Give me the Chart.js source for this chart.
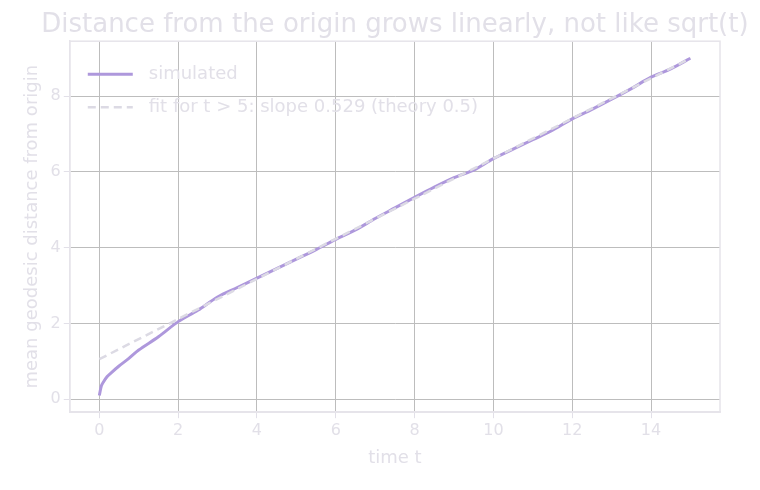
<!DOCTYPE html>
<html><head><meta charset="utf-8">
<script src="https://cdn.jsdelivr.net/npm/chart.js@4"></script>
<style>html,body{margin:0;background:#fff}#w{width:760px;height:490px}</style>
</head><body><div id="w"><canvas id="c"></canvas></div>
<script>
const times = [0,0.05,0.1,0.2,0.3,0.5,0.75,1,1.5,2,2.5,3,3.5,4,4.5,5,5.5,6,6.5,7,7.5,8,8.5,9,9.5,10,10.5,11,11.5,12,12.5,13,13.5,14,14.5,15];
const simulated = [0.1,0.35,0.45,0.6,0.7,0.88,1.08,1.3,1.65,2.05,2.35,2.7,2.95,3.2,3.45,3.7,3.95,4.22,4.47,4.77,5.05,5.33,5.6,5.85,6.05,6.35,6.6,6.85,7.1,7.4,7.65,7.92,8.2,8.5,8.72,9.0];
const fitT = [0,15];
const fitY = [1.06,9.0];
const xTicks = [0,2,4,6,8,10,12,14];
const yTicks = [0,2,4,6,8];
const titleText = 'Distance from the origin grows linearly, not like sqrt(t)';
const txt = '#e2e0e8', font = 'DejaVu Sans';
const legendPlugin = {id:'lg', afterDraw(ch){
  const c=ch.ctx, a=ch.chartArea; c.save();
  c.strokeStyle='#e6e4ea'; c.lineWidth=1.5; c.strokeRect(a.left,a.top,a.right-a.left,a.bottom-a.top);
  c.fillStyle=txt; c.font='26px "'+font+'"'; c.textAlign='center'; c.textBaseline='middle';
  c.fillText(titleText,(a.left+a.right)/2,25);
  c.textAlign='left';
  c.font='18px "'+font+'"';
  ch.data.datasets.forEach((d,i)=>{
    const y=a.top+33+i*33, x=a.left+18;
    c.strokeStyle=d.borderColor; c.lineWidth=d.borderWidth; c.setLineDash(d.borderDash||[]);
    c.beginPath(); c.moveTo(x,y); c.lineTo(x+45,y); c.stroke();
    c.fillStyle=txt; c.fillText(d.label,x+61,y);
  }); c.restore();}};
new Chart(document.getElementById('c'),{type:'line',
 data:{datasets:[
  {label:'simulated',data:times.map((t,i)=>({x:t,y:simulated[i]})),borderColor:'#ae98dc',borderWidth:3,pointRadius:0,tension:0.3,order:1},
  {label:'fit for t > 5: slope 0.529 (theory 0.5)',data:fitT.map((t,i)=>({x:t,y:fitY[i]})),borderColor:'#dcdae4',borderWidth:2.5,borderDash:[8,5],pointRadius:0,order:0}
 ]},
 options:{animation:false,responsive:true,maintainAspectRatio:false,
  layout:{padding:{top:0,right:40,left:18,bottom:17}},
  plugins:{legend:{display:false},tooltip:{enabled:false},
   title:{display:true,text:titleText,color:'rgba(0,0,0,0)',font:{family:font,size:26,weight:'normal'},padding:{top:4,bottom:6}}},
  scales:{
   x:{type:'linear',min:-0.75,max:15.75,afterBuildTicks:s=>{s.ticks=xTicks.map(v=>({value:v}))},
      grid:{color:'#bdbdbd',tickColor:txt,tickLength:6},border:{color:'#e6e4ea',width:1.5},
      ticks:{color:txt,font:{family:font,size:16},padding:3},
      title:{display:true,text:'time t',color:txt,font:{family:font,size:18}}},
   y:{min:-0.34,max:9.45,afterBuildTicks:s=>{s.ticks=yTicks.map(v=>({value:v}))},
      grid:{color:'#bdbdbd',tickColor:txt,tickLength:6},border:{color:'#e6e4ea',width:1.5},
      ticks:{color:txt,font:{family:font,size:16},padding:3},
      title:{display:true,text:'mean geodesic distance from origin',color:txt,font:{family:font,size:18}}}
  }},plugins:[legendPlugin]});
</script></body></html>
